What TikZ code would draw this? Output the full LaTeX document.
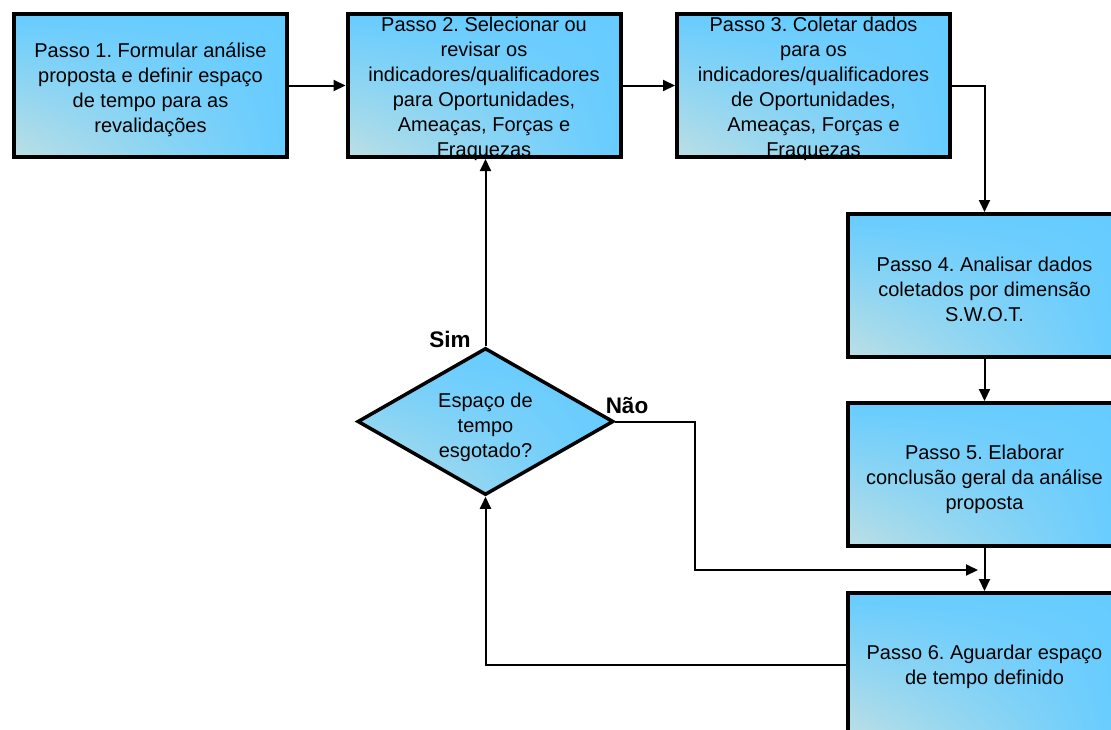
\documentclass[tikz,border=0pt]{standalone}
\usepackage{fontspec}
\setmainfont{Liberation Sans}
\usetikzlibrary{arrows.meta,shapes.geometric,shadings}
\definecolor{sky}{RGB}{102,204,255}
\definecolor{pale}{RGB}{188,223,228}
\frenchspacing

\begin{document}
\begin{tikzpicture}[x=1pt,y=-1pt,
  box/.style={draw=black,line width=4pt,minimum width=273pt,minimum height=143pt,
    inner sep=0pt,lower left=pale,upper left=sky,upper right=sky,lower right=sky},
  boxline/.style={draw=black,line width=4pt},
  txt/.style={align=center,inner sep=0pt,font=\fontsize{20}{25}\selectfont},
  decision/.style={diamond,draw=black,line width=3.5pt,minimum width=256pt,
    minimum height=147pt,aspect=1.74,inner sep=0pt,
    lower left=pale,upper left=sky,upper right=sky,lower right=sky},
  flow/.style={line width=2pt,-{Triangle[length=12pt,width=11pt]}},
  answer/.style={inner sep=0pt,font=\fontsize{22.5}{26}\selectfont\bfseries}
]
\useasboundingbox (0,0) rectangle (1111,729);
\clip (0,0) rectangle (1111,729);

% process steps
\node[box] (b1) at (150.5,85.5) {};
\node[txt] at ([yshift=-4pt]b1) {Passo 1. Formular análise\\proposta e definir espaço\\de tempo para as\\revalidações};
\node[box] (b2) at (484,85.5) {};
\node[txt] at ([yshift=-3pt]b2) {Passo 2. Selecionar ou\\revisar os\\indicadores/qualificadores\\para Oportunidades,\\Ameaças, Forças e\\Fraquezas};
\node[box] (b3) at (813.5,85.5) {};
\node[txt] at ([yshift=-3pt]b3) {Passo 3. Coletar dados\\para os\\indicadores/qualificadores\\de Oportunidades,\\Ameaças, Forças e\\Fraquezas};
\node[box] (b4) at (984.5,285.5) {};
\node[txt] at ([yshift=-3.5pt]b4) {Passo 4. Analisar dados\\coletados por dimensão\\S.W.O.T.};
\node[box] (b5) at (984.5,474.5) {};
\node[txt] at ([yshift=-4.5pt]b5) {Passo 5. Elaborar\\conclusão geral da análise\\proposta};
\node[box] (b6) at (984.5,664.5) {};
\node[txt] at ([yshift=-2.5pt]b6) {Passo 6. Aguardar espaço\\de tempo definido};

% frames go on top so overflowing text sits under them
\foreach \n in {b1,b2,b3,b4,b5,b6}
  \draw[boxline] ([shift={(2pt,2pt)}]\n.south west) rectangle ([shift={(-2pt,-2pt)}]\n.north east);

% decision
\node[decision] (d) at (485.5,421.5) {};
\node[txt] at ([yshift=-6pt]d) {Espaço de\\tempo\\esgotado?};
\node[answer] (sim) at (450,339) {Sim};
\node[answer] (nao) at (627,405) {Não};

% connectors
\coordinate (nbend) at (695,570);
\coordinate (nend) at (978,570);
\draw[flow] (b1.east) -- (b1.east -| b2.west);
\draw[flow] (b2.east) -- (b2.east -| b3.west);
\draw[flow] (b3.east) -| (b4.north);
\draw[flow] (b4.south) -- (b5.north);
\draw[flow] (b5.south) -- (b6.north);
\draw[flow] (d.east) -| (nbend) -- (nend);
\draw[flow] (b6.west) -| (d.south);
\draw[flow] (d.north) -- (d.north |- b2.south);
\end{tikzpicture}
\end{document}
